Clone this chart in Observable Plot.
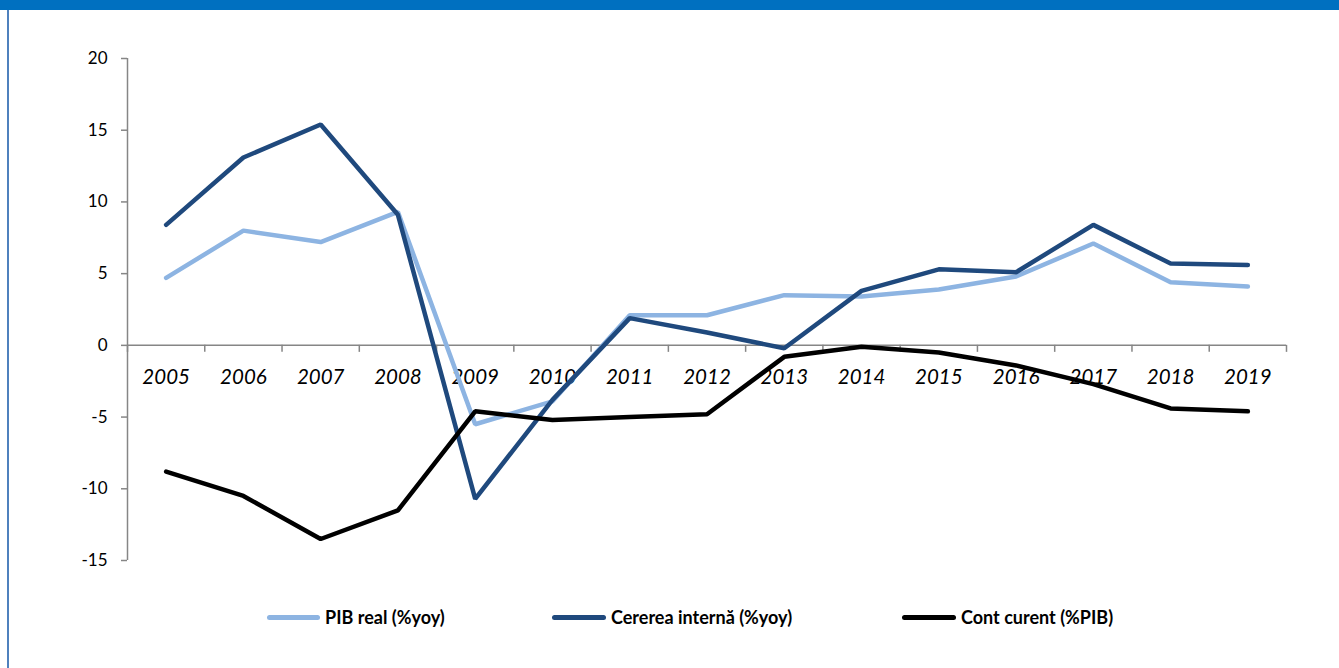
<!DOCTYPE html>
<html>
<head>
<meta charset="utf-8">
<script src="https://cdn.jsdelivr.net/npm/d3@7"></script>
<script src="https://cdn.jsdelivr.net/npm/@observablehq/plot@0.6"></script>
<style>
  body { margin: 0; background: #ffffff; }
  #wrap { position: relative; width: 1339px; height: 668px; overflow: hidden; background: #fff; font-family: Lato, "Open Sans", sans-serif; }
  #topbar { position: absolute; left: 0; top: 0; width: 1339px; height: 10px; background: #0070C0; }
  #leftbar { position: absolute; left: 7px; top: 10px; width: 2px; height: 658px; background: #4F81BD; }
  #chart { position: absolute; left: 0; top: 0; }
  #legend { position: absolute; left: 0; top: 604px; width: 1339px; height: 26px; }
  .item { position: absolute; top: 0; height: 26px; display: flex; align-items: center; font-weight: bold; font-size: 18px; color: #000; white-space: nowrap; }
  .swatch { display: inline-block; height: 5px; border-radius: 3px; margin-right: 5px; }
</style>
</head>
<body>
<div id="wrap">
  <div id="chart"></div>
  <div id="topbar"></div>
  <div id="leftbar"></div>
  <div id="legend"></div>
</div>
<script>
const years = [2005, 2006, 2007, 2008, 2009, 2010, 2011, 2012, 2013, 2014, 2015, 2016, 2017, 2018, 2019];
const pibReal = [4.7, 8.0, 7.2, 9.3, -5.5, -3.9, 2.1, 2.1, 3.5, 3.4, 3.9, 4.8, 7.1, 4.4, 4.1];
const cerereaInterna = [8.4, 13.1, 15.4, 9.1, -10.7, -3.8, 1.9, 0.9, -0.2, 3.8, 5.3, 5.1, 8.4, 5.7, 5.6];
const contCurent = [-8.8, -10.5, -13.5, -11.5, -4.6, -5.2, -5.0, -4.8, -0.8, -0.1, -0.5, -1.4, -2.7, -4.4, -4.6];
const yTicks = [-15, -10, -5, 0, 5, 10, 15, 20];
const seriesNames = ["PIB real (%yoy)", "Cererea internă (%yoy)", "Cont curent (%PIB)"];
const seriesColors = ["#8DB4E2", "#1F497D", "#000000"];
const legendLeft = [267, 552, 902];
const swatchWidth = [53, 54, 54];

const seriesValues = [pibReal, cerereaInterna, contCurent];
const rows = seriesNames.map((name, s) => years.map((yr, i) => ({series: name, year: yr, value: seriesValues[s][i]})));
const xMin = years[0] - 0.5, xMax = years[years.length - 1] + 0.5;
const bounds = d3.range(years.length + 1).map(i => xMin + i);
const axisColor = "#868686";

const chart = Plot.plot({
  width: 1339,
  height: 668,
  marginLeft: 127,
  marginRight: 53,
  marginTop: 58,
  marginBottom: 108,
  style: {fontFamily: "Lato, 'Open Sans', sans-serif", background: "transparent", color: "#000"},
  x: {type: "linear", domain: [xMin, xMax], axis: null},
  y: {domain: [yTicks[0], yTicks[yTicks.length - 1]], axis: null},
  marks: [
    Plot.ruleX([xMin], {y1: yTicks[0], y2: yTicks[yTicks.length - 1], stroke: axisColor, strokeWidth: 1.5}),
    Plot.ruleY(yTicks, {y: d => d, x1: xMin, x2: xMin, insetLeft: -6, stroke: axisColor, strokeWidth: 1.5}),
    Plot.text(yTicks, {x: xMin, y: d => d, text: d => String(d), dx: -20, textAnchor: "end", fontSize: 17, fill: "#000"}),
    Plot.ruleY([0], {x1: xMin, x2: xMax, stroke: axisColor, strokeWidth: 1.5}),
    Plot.ruleX(bounds, {x: d => d, y1: 0, y2: 0, insetBottom: -7, stroke: axisColor, strokeWidth: 1.5}),
    Plot.text(years, {x: d => d, y: 0, text: d => String(d), dy: 32, fontSize: 20.5, fontStyle: "italic", fill: "#000"}),
    ...rows.map((r, s) => Plot.line(r, {x: "year", y: "value", stroke: seriesColors[s], strokeWidth: 4.5, strokeLinejoin: "miter", strokeLinecap: "round"}))
  ]
});
document.getElementById("chart").appendChild(chart);

const legend = document.getElementById("legend");
seriesNames.forEach((name, s) => {
  const item = document.createElement("div");
  item.className = "item";
  item.style.left = legendLeft[s] + "px";
  const sw = document.createElement("span");
  sw.className = "swatch";
  sw.style.width = swatchWidth[s] + "px";
  sw.style.background = seriesColors[s];
  item.appendChild(sw);
  item.appendChild(document.createTextNode(name));
  legend.appendChild(item);
});
</script>
</body>
</html>
